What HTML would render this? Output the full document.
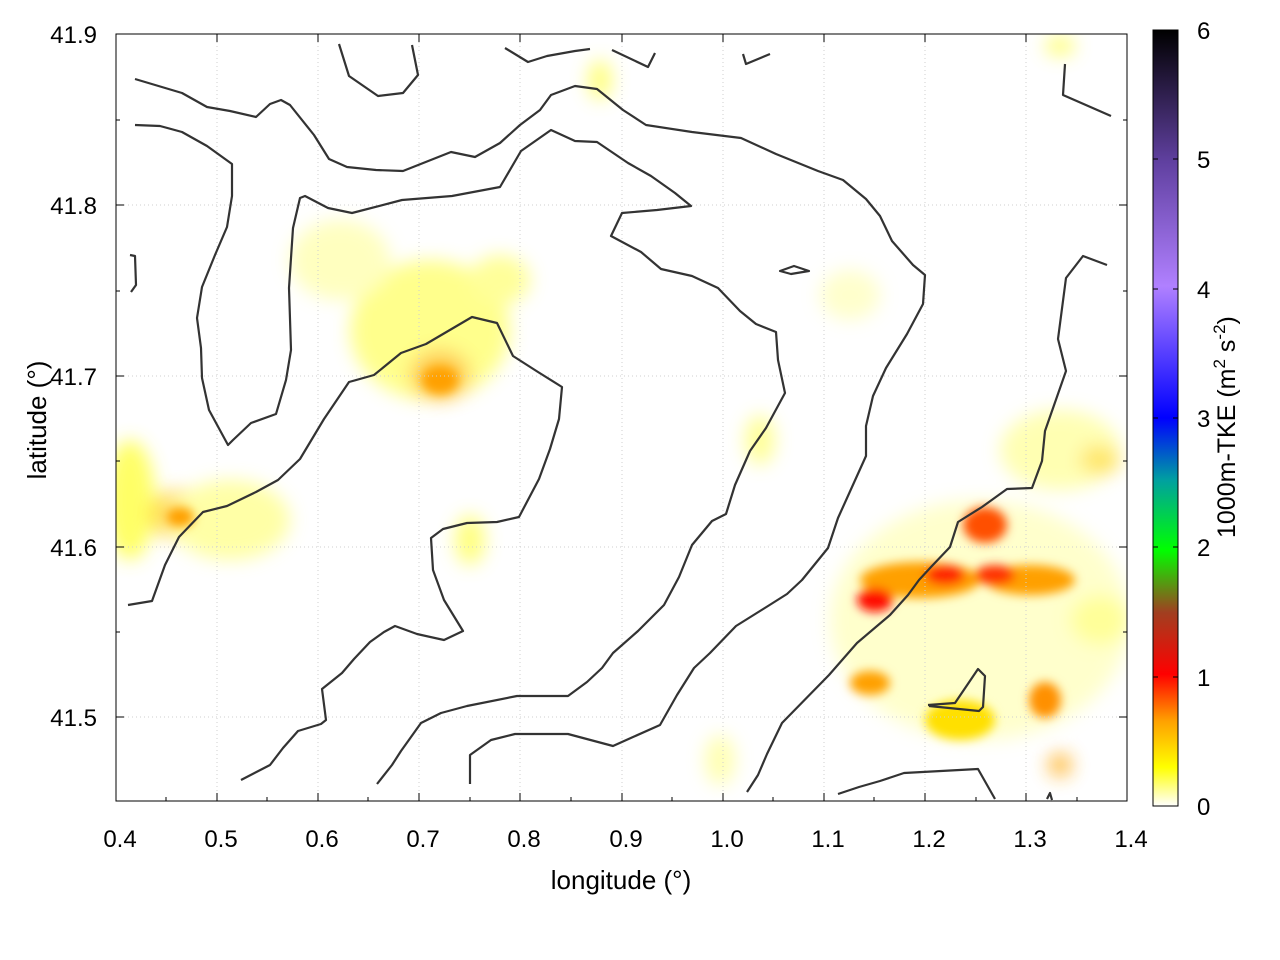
<!DOCTYPE html>
<html><head><meta charset="utf-8"><style>
html,body{margin:0;padding:0;background:#fff;}
svg{display:block;}
text{font-family:"Liberation Sans",sans-serif;fill:#000;}
</style></head><body>
<svg width="1280" height="960" viewBox="0 0 1280 960" xmlns="http://www.w3.org/2000/svg">
<defs>
<filter id="b" x="-50%" y="-50%" width="200%" height="200%"><feGaussianBlur stdDeviation="9"/></filter>
<filter id="b2" x="-50%" y="-50%" width="200%" height="200%"><feGaussianBlur stdDeviation="5"/></filter>
<linearGradient id="cb" x1="0" y1="1" x2="0" y2="0">
<stop offset="0" stop-color="#ffffff"/>
<stop offset="0.05" stop-color="#ffff00"/>
<stop offset="0.11" stop-color="#ffa000"/>
<stop offset="0.17" stop-color="#ff0000"/>
<stop offset="0.25" stop-color="#a04020"/>
<stop offset="0.33" stop-color="#00ff00"/>
<stop offset="0.42" stop-color="#00a0a0"/>
<stop offset="0.5" stop-color="#0000ff"/>
<stop offset="0.67" stop-color="#b080ff"/>
<stop offset="0.83" stop-color="#6040a0"/>
<stop offset="1" stop-color="#000000"/>
</linearGradient>
<clipPath id="pc"><rect x="116" y="34" width="1011" height="767"/></clipPath>
</defs>
<g clip-path="url(#pc)">
<g filter="url(#b)" opacity="0.8">
<ellipse cx="130" cy="500" rx="25" ry="60" fill="#ffff40"/>
<ellipse cx="180" cy="515" rx="30" ry="25" fill="#ffd020"/>
<ellipse cx="230" cy="520" rx="60" ry="40" fill="#ffff90"/>
<ellipse cx="430" cy="330" rx="80" ry="70" fill="#ffff70"/>
<ellipse cx="440" cy="375" rx="30" ry="25" fill="#ffc020"/>
<ellipse cx="340" cy="260" rx="50" ry="40" fill="#ffffb0"/>
<ellipse cx="500" cy="280" rx="30" ry="25" fill="#ffff80"/>
<ellipse cx="470" cy="540" rx="15" ry="25" fill="#ffff60"/>
<ellipse cx="600" cy="80" rx="12" ry="20" fill="#ffff60"/>
<ellipse cx="760" cy="440" rx="15" ry="25" fill="#ffff80"/>
<ellipse cx="850" cy="295" rx="30" ry="25" fill="#ffffc0"/>
<ellipse cx="980" cy="620" rx="150" ry="120" fill="#ffffc0"/>
<ellipse cx="1060" cy="450" rx="60" ry="40" fill="#ffffa0"/>
<ellipse cx="1100" cy="460" rx="20" ry="15" fill="#ffe040"/>
<ellipse cx="1060" cy="46" rx="15" ry="10" fill="#ffff60"/>
<ellipse cx="1060" cy="765" rx="12" ry="12" fill="#ffb020"/>
<ellipse cx="720" cy="760" rx="15" ry="25" fill="#ffffa0"/>
<ellipse cx="1100" cy="620" rx="30" ry="25" fill="#ffff80"/>
</g>
<g filter="url(#b2)">
<ellipse cx="870" cy="683" rx="20" ry="12" fill="#ffa000"/>
<ellipse cx="1045" cy="700" rx="16" ry="18" fill="#ff9000"/>
<ellipse cx="960" cy="720" rx="35" ry="20" fill="#ffe000"/>
<ellipse cx="920" cy="580" rx="60" ry="18" fill="#ffa000"/>
<ellipse cx="1030" cy="580" rx="45" ry="15" fill="#ffa000"/>
<ellipse cx="985" cy="525" rx="22" ry="18" fill="#ff5000"/>
<ellipse cx="875" cy="600" rx="18" ry="12" fill="#ff1000"/>
<ellipse cx="945" cy="575" rx="20" ry="10" fill="#ff2000"/>
<ellipse cx="995" cy="575" rx="20" ry="10" fill="#ff3000"/>
<ellipse cx="440" cy="380" rx="18" ry="14" fill="#ffa000"/>
<ellipse cx="180" cy="517" rx="14" ry="10" fill="#ffa000"/>
</g>
</g>
<g fill="none" stroke="#cfcfcf" stroke-width="1" stroke-dasharray="1,3">
<path d="M217 34V801M318 34V801M419 34V801M520 34V801M622 34V801M723 34V801M824 34V801M925 34V801M1026 34V801"/>
<path d="M116 205H1127M116 376H1127M116 547H1127M116 717H1127"/>
</g>
<g fill="none" stroke="#333" stroke-width="2.2" stroke-linejoin="round" clip-path="url(#pc)">
<polyline points="135,79 182,93 207,107 230,111 256,117 270,104 281,100 290,105 314,135 329,159 347,167 376,170 403,171 451,152 475,157 500,143 520,125 540,110 551,95 575,86 597,89 623,110 646,125 692,132 741,138 776,154 818,171 843,180 866,199 880,216 892,241 913,265 925,275 923,304 907,334 886,368 873,396 866,426 866,456 838,518 828,548 802,580 787,594 768,606 736,626 710,653 694,668 677,695 660,725 633,737 613,746 568,734 515,734 491,740 470,755 470,784"/>
<polyline points="135,125 160,126 182,132 207,146 232,164 232,196 227,227 215,255 202,287 197,318 201,348 202,378 209,410 228,445 233,440 251,423 276,414 286,380 291,350 289,288 293,228 300,198 305,196 328,208 352,213 402,200 452,196 500,187 521,151 551,130 575,141 597,142 628,163 651,176 675,193 691,206 657,210 622,213 611,236 641,252 661,269 692,276 718,288 740,311 756,324 776,332 778,360 785,393 766,428 750,451 735,485 726,514 712,521 692,545 679,577 664,605 638,631 613,653 602,668 587,682 568,696 517,696 467,706 441,713 421,723 401,751 392,765 377,784"/>
<polyline points="128,605 152,601 165,565 179,537 203,512 227,506 256,492 278,480 300,459 324,419 349,382 374,375 401,353 426,344 472,317 497,323 513,356 538,372 562,387 559,419 550,449 539,479 519,517 497,522 467,523 443,529 431,538 433,570 444,600 463,631 444,640 417,634 395,626 384,632 370,642 354,659 342,673 322,689 326,720 321,724 298,731 283,748 270,765 241,780"/>
<polyline points="130,255 135,256 136,285 131,292"/>
<polyline points="339,44 349,76 378,96 403,93 418,75 412,45"/>
<polyline points="505,48 528,62 547,56 575,51 590,49"/>
<polyline points="612,50 648,67 655,53"/>
<polyline points="743,54 746,64 770,54"/>
<polyline points="1065,64 1063,95 1111,116"/>
<polyline points="1107,265 1083,256 1066,278 1058,339 1066,371 1045,431 1042,461 1032,488 1007,489 982,507 958,522 950,547 931,567 919,580 908,595 890,615 857,643 829,675 782,723 767,754 758,775 747,792"/>
<polygon points="780,271 794,266 809,271 791,274"/>
<polyline points="928,705 955,703 978,669 985,676 983,707 979,711 929,706"/>
<polyline points="838,794 859,787 880,781 904,773 978,769 995,799"/>
<polyline points="1047,799 1050,793 1052,800"/>
</g>
<rect x="116" y="34" width="1011" height="767" fill="none" stroke="#000" stroke-width="1"/>
<g stroke="#000" stroke-width="1">
<path d="M116 801v-8M217 801v-8M318 801v-8M419 801v-8M520 801v-8M622 801v-8M723 801v-8M824 801v-8M925 801v-8M1026 801v-8M1127 801v-8"/>
<path d="M116 34v8M217 34v8M318 34v8M419 34v8M520 34v8M622 34v8M723 34v8M824 34v8M925 34v8M1026 34v8"/>
<path d="M166 801v-4M267 801v-4M368 801v-4M470 801v-4M571 801v-4M672 801v-4M773 801v-4M874 801v-4M976 801v-4M1077 801v-4"/>
<path d="M116 205h8M116 376h8M116 547h8M116 717h8M116 120h4M116 291h4M116 461h4M116 632h4"/>
<path d="M1127 34h-8M1127 205h-8M1127 376h-8M1127 547h-8M1127 717h-8M1127 120h-4M1127 291h-4M1127 461h-4M1127 632h-4"/>
</g>
<g font-size="24" text-anchor="end">
<text x="97" y="43">41.9</text>
<text x="97" y="214">41.8</text>
<text x="97" y="385">41.7</text>
<text x="97" y="556">41.6</text>
<text x="97" y="726">41.5</text>
</g>
<g font-size="24" text-anchor="middle">
<text x="120" y="847">0.4</text><text x="221" y="847">0.5</text><text x="322" y="847">0.6</text>
<text x="423" y="847">0.7</text><text x="524" y="847">0.8</text><text x="626" y="847">0.9</text>
<text x="727" y="847">1.0</text><text x="828" y="847">1.1</text><text x="929" y="847">1.2</text>
<text x="1030" y="847">1.3</text><text x="1131" y="847">1.4</text>
<text x="621" y="889" font-size="26">longitude (°)</text>
<text transform="translate(46 420) rotate(-90)" font-size="26">latitude (°)</text>
</g>
<rect x="1153" y="30" width="25" height="776" fill="url(#cb)" stroke="#000" stroke-width="1"/>
<g stroke="#000"><path d="M1153 677h5M1178 677h-5M1153 547h5M1178 547h-5M1153 418h5M1178 418h-5M1153 289h5M1178 289h-5M1153 159h5M1178 159h-5"/></g>
<g font-size="24">
<text x="1197" y="815">0</text><text x="1197" y="686">1</text><text x="1197" y="556">2</text>
<text x="1197" y="427">3</text><text x="1197" y="298">4</text><text x="1197" y="168">5</text><text x="1197" y="39">6</text>
<text transform="translate(1235 538) rotate(-90)" font-size="25">1000m-TKE (m<tspan font-size="17" dy="-10">2</tspan><tspan dy="10"> s</tspan><tspan font-size="17" dy="-10">-2</tspan><tspan dy="10">)</tspan></text>
</g>
</svg>
</body></html>
